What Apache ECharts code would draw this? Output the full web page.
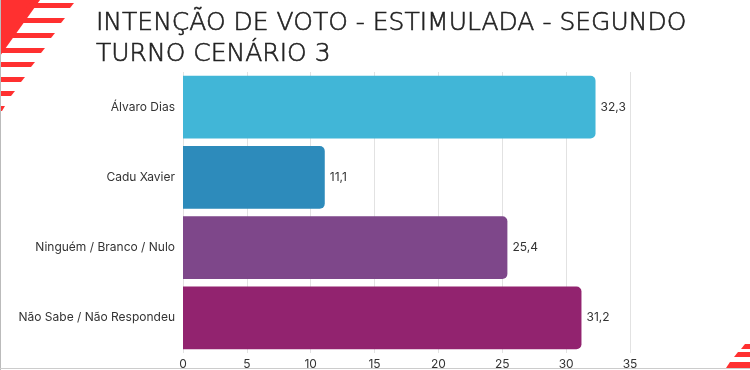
<!DOCTYPE html>
<html>
<head>
<meta charset="utf-8">
<script src="https://cdn.jsdelivr.net/npm/echarts@6/dist/echarts.min.js"></script>
<style>html,body{margin:0;padding:0;background:#fff;}#c{width:750px;height:370px;}</style>
</head>
<body>
<div id="c"></div>
<script>
const categories = ['Álvaro Dias', 'Cadu Xavier', 'Ninguém / Branco / Nulo', 'Não Sabe / Não Respondeu'];
const values = [32.3, 11.1, 25.4, 31.2];
const barColors = ['#41B6D7', '#2D8BBB', '#7E478A', '#92236F'];
const titleText = 'INTENÇÃO DE VOTO - ESTIMULADA - SEGUNDO\nTURNO CENÁRIO 3';
const xMax = 35;
const xInterval = 5;

const chart = echarts.init(document.getElementById('c'), null, {renderer: 'canvas'});

const red = '#FF3030';
const deco = [
  {type: 'polygon', shape: {points: [[0,0],[40,0],[0,56]]}, style: {fill: red}},
  {type: 'polygon', shape: {points: [[30,3],[74,3],[70,8],[26,8]]}, style: {fill: red}},
  {type: 'polygon', shape: {points: [[20,18],[65,18],[61,23],[16,23]]}, style: {fill: red}},
  {type: 'polygon', shape: {points: [[10,33],[55,33],[51,38],[6,38]]}, style: {fill: red}},
  {type: 'polygon', shape: {points: [[0,48],[45,48],[41,53],[0,53]]}, style: {fill: red}},
  {type: 'polygon', shape: {points: [[0,62],[35,62],[31,67],[0,67]]}, style: {fill: red}},
  {type: 'polygon', shape: {points: [[0,77],[25,77],[21,82],[0,82]]}, style: {fill: red}},
  {type: 'polygon', shape: {points: [[0,91],[15,91],[11,96],[0,96]]}, style: {fill: red}},
  {type: 'polygon', shape: {points: [[0,106],[5,106],[2,111],[0,111]]}, style: {fill: red}},
  {type: 'rect', shape: {x: 0, y: 0, width: 1, height: 370}, style: {fill: '#bbb'}},
  {type: 'polygon', shape: {points: [[745,344],[750,344],[750,349],[741,349]]}, style: {fill: red}},
  {type: 'polygon', shape: {points: [[738,352],[750,352],[750,357],[734,357]]}, style: {fill: red}},
  {type: 'polygon', shape: {points: [[730,362],[750,362],[750,368],[726,368]]}, style: {fill: red}},
  {type: 'rect', shape: {x: 0, y: 368, width: 750, height: 1}, style: {fill: '#ccc'}}
];

chart.setOption({
  backgroundColor: '#fff',
  animation: false,
  title: {
    text: titleText,
    left: 91,
    top: 3,
    textStyle: {fontFamily: 'DejaVu Sans', fontWeight: 300, fontSize: 25, color: '#222', lineHeight: 31,
      textBorderColor: '#222', textBorderWidth: 0.6}
  },
  graphic: deco,
  grid: {left: 183, right: 120, top: 72, bottom: 13, containLabel: false},
  xAxis: {
    type: 'value', min: 0, max: xMax, interval: xInterval,
    axisLine: {show: false}, axisTick: {show: false},
    splitLine: {show: true, lineStyle: {color: '#e2e2e2', width: 1}},
    axisLabel: {fontFamily: 'Inter', fontSize: 12, color: '#333', margin: 5}
  },
  yAxis: {
    type: 'category', data: categories, inverse: true,
    axisLine: {show: false}, axisTick: {show: false},
    axisLabel: {fontFamily: 'Inter', fontSize: 12, color: '#333', margin: 8}
  },
  series: [{
    type: 'bar',
    data: values.map((v, i) => ({value: v, itemStyle: {color: barColors[i]}})),
    barCategoryGap: '11%',
    itemStyle: {borderRadius: [0, 5, 5, 0]},
    label: {
      show: true, position: 'right', distance: 5,
      fontFamily: 'Inter', fontSize: 12, color: '#333',
      formatter: p => String(p.value).replace('.', ',')
    }
  }]
});
</script>
</body>
</html>
